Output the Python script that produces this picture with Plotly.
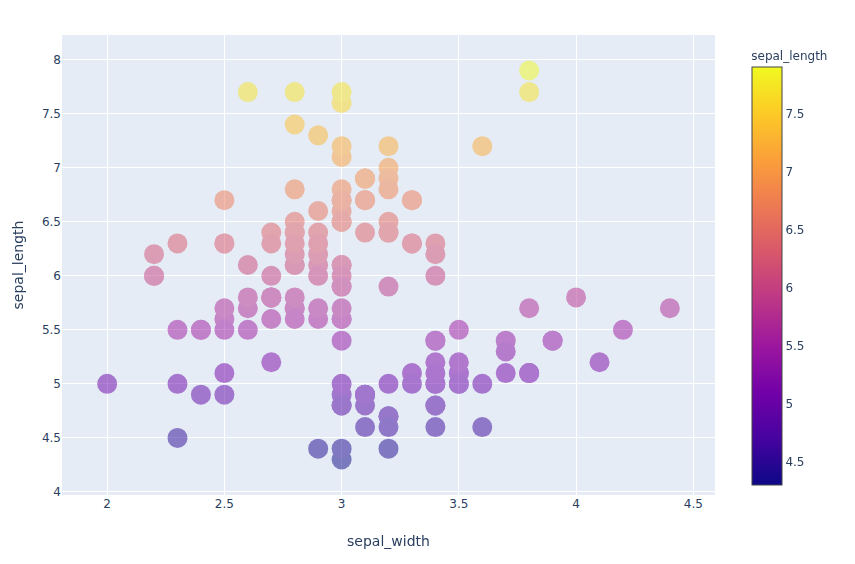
import plotly.graph_objects as go

# iris: sepal width (x) vs sepal length (y), coloured by sepal length
sepal_width = [
    3.5, 3.0, 3.2, 3.1, 3.6, 3.9, 3.4, 3.4, 2.9, 3.1, 3.7, 3.4, 3.0, 3.0, 4.0, 4.4, 3.9, 3.5, 3.8, 3.8,
    3.4, 3.7, 3.6, 3.3, 3.4, 3.0, 3.4, 3.5, 3.4, 3.2, 3.1, 3.4, 4.1, 4.2, 3.1, 3.2, 3.5, 3.1, 3.0, 3.4,
    3.5, 2.3, 3.2, 3.5, 3.8, 3.0, 3.8, 3.2, 3.7, 3.3,
    3.2, 3.2, 3.1, 2.3, 2.8, 2.8, 3.3, 2.4, 2.9, 2.7, 2.0, 3.0, 2.2, 2.9, 2.9, 3.1, 3.0, 2.7, 2.2, 2.5,
    3.2, 2.8, 2.5, 2.8, 2.9, 3.0, 2.8, 3.0, 2.9, 2.6, 2.4, 2.4, 2.7, 2.7, 3.0, 3.4, 3.1, 2.3, 3.0, 2.5,
    2.6, 3.0, 2.6, 2.3, 2.7, 3.0, 2.9, 2.9, 2.5, 2.8,
    3.3, 2.7, 3.0, 2.9, 3.0, 3.0, 2.5, 2.9, 2.5, 3.6, 3.2, 2.7, 3.0, 2.5, 2.8, 3.2, 3.0, 3.8, 2.6, 2.2,
    3.2, 2.8, 2.8, 2.7, 3.3, 3.2, 2.8, 3.0, 2.8, 3.0, 2.8, 3.8, 2.8, 2.8, 2.6, 3.0, 3.4, 3.1, 3.0, 3.1,
    3.1, 3.1, 2.7, 3.2, 3.3, 3.0, 2.5, 3.0, 3.4, 3.0,
]
sepal_length = [
    5.1, 4.9, 4.7, 4.6, 5.0, 5.4, 4.6, 5.0, 4.4, 4.9, 5.4, 4.8, 4.8, 4.3, 5.8, 5.7, 5.4, 5.1, 5.7, 5.1,
    5.4, 5.1, 4.6, 5.1, 4.8, 5.0, 5.0, 5.2, 5.2, 4.7, 4.8, 5.4, 5.2, 5.5, 4.9, 5.0, 5.5, 4.9, 4.4, 5.1,
    5.0, 4.5, 4.4, 5.0, 5.1, 4.8, 5.1, 4.6, 5.3, 5.0,
    7.0, 6.4, 6.9, 5.5, 6.5, 5.7, 6.3, 4.9, 6.6, 5.2, 5.0, 5.9, 6.0, 6.1, 5.6, 6.7, 5.6, 5.8, 6.2, 5.6,
    5.9, 6.1, 6.3, 6.1, 6.4, 6.6, 6.8, 6.7, 6.0, 5.7, 5.5, 5.5, 5.8, 6.0, 5.4, 6.0, 6.7, 6.3, 5.6, 5.5,
    5.5, 6.1, 5.8, 5.0, 5.6, 5.7, 5.7, 6.2, 5.1, 5.7,
    6.3, 5.8, 7.1, 6.3, 6.5, 7.6, 4.9, 7.3, 6.7, 7.2, 6.5, 6.4, 6.8, 5.7, 5.8, 6.4, 6.5, 7.7, 7.7, 6.0,
    6.9, 5.6, 7.7, 6.3, 6.7, 7.2, 6.2, 6.1, 6.4, 7.2, 7.4, 7.9, 6.4, 6.3, 6.1, 7.7, 6.3, 6.4, 6.0, 6.9,
    6.7, 6.9, 5.8, 6.8, 6.7, 6.7, 6.3, 6.5, 6.2, 5.9,
]

fig = go.Figure(go.Scatter(
    x=sepal_width,
    y=sepal_length,
    mode="markers",
    opacity=0.5,
    marker=dict(
        size=20,
        color=sepal_length,
        colorscale="Plasma",
        showscale=True,
        colorbar=dict(
            title=dict(text="sepal_length", font=dict(size=12)),
            x=1.041,
            y=0,
            yanchor="bottom",
            len=0.993,
        ),
    ),
    showlegend=False,
))

fig.update_layout(
    template="plotly",
    width=855,
    height=564,
    margin=dict(l=54, r=148, t=27, b=77),
    xaxis_title="sepal_width",
    yaxis_title="sepal_length",
    font=dict(family="DejaVu Sans"),
)
fig.update_xaxes(automargin=False, title_standoff=26)
fig.update_yaxes(automargin=False)

fig.write_html("out.html")
